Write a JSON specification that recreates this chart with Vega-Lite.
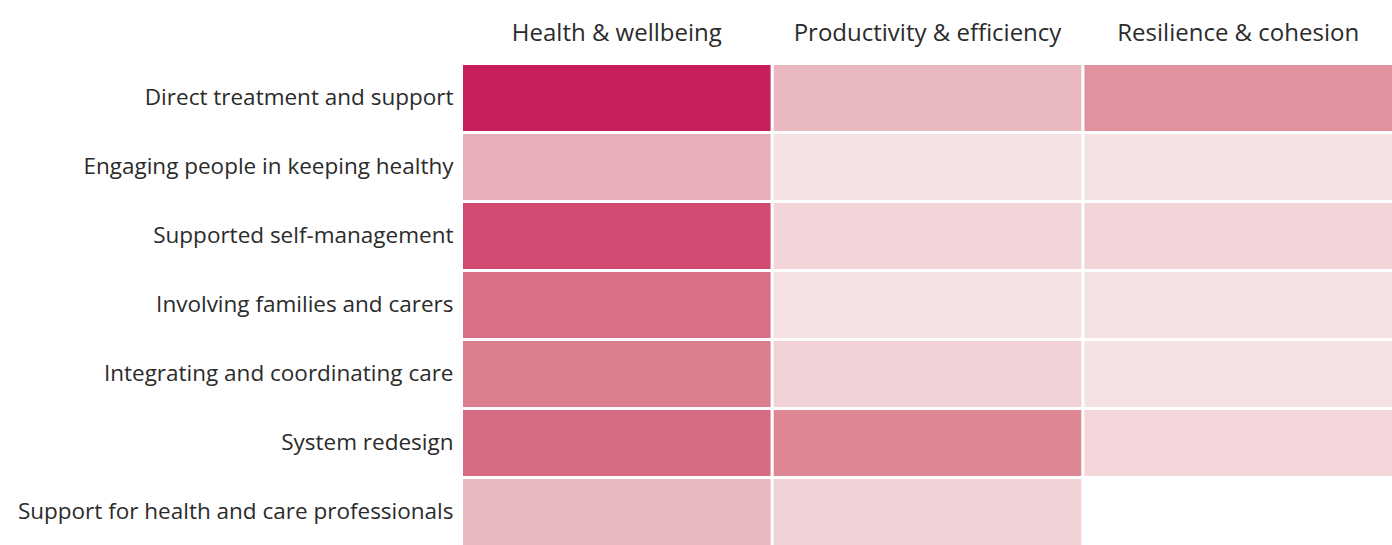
{
  "$schema": "https://vega.github.io/schema/vega-lite/v6.json",
  "width": 1392,
  "height": 545,
  "autosize": {"type": "fit", "contains": "padding"},
  "padding": {"top": 21, "left": 17, "right": 0, "bottom": 0},
  "background": "white",
  "config": {"view": {"stroke": null}, "font": "Open Sans"},
  "data": {
    "values": [
      {"activity": "Direct treatment and support", "outcome": "Health & wellbeing", "score": 10},
      {"activity": "Direct treatment and support", "outcome": "Productivity & efficiency", "score": 2.1},
      {"activity": "Direct treatment and support", "outcome": "Resilience & cohesion", "score": 4.1},
      {"activity": "Engaging people in keeping healthy", "outcome": "Health & wellbeing", "score": 2.6},
      {"activity": "Engaging people in keeping healthy", "outcome": "Productivity & efficiency", "score": 0},
      {"activity": "Engaging people in keeping healthy", "outcome": "Resilience & cohesion", "score": 0},
      {"activity": "Supported self-management", "outcome": "Health & wellbeing", "score": 7.7},
      {"activity": "Supported self-management", "outcome": "Productivity & efficiency", "score": 0.7},
      {"activity": "Supported self-management", "outcome": "Resilience & cohesion", "score": 0.7},
      {"activity": "Involving families and carers", "outcome": "Health & wellbeing", "score": 5.9},
      {"activity": "Involving families and carers", "outcome": "Productivity & efficiency", "score": 0},
      {"activity": "Involving families and carers", "outcome": "Resilience & cohesion", "score": 0.1},
      {"activity": "Integrating and coordinating care", "outcome": "Health & wellbeing", "score": 5.05},
      {"activity": "Integrating and coordinating care", "outcome": "Productivity & efficiency", "score": 0.9},
      {"activity": "Integrating and coordinating care", "outcome": "Resilience & cohesion", "score": 0},
      {"activity": "System redesign", "outcome": "Health & wellbeing", "score": 6.1},
      {"activity": "System redesign", "outcome": "Productivity & efficiency", "score": 4.7},
      {"activity": "System redesign", "outcome": "Resilience & cohesion", "score": 0.65},
      {"activity": "Support for health and care professionals", "outcome": "Health & wellbeing", "score": 2.1},
      {"activity": "Support for health and care professionals", "outcome": "Productivity & efficiency", "score": 0.9}
    ]
  },
  "mark": {"type": "rect"},
  "encoding": {
    "x": {
      "field": "outcome",
      "type": "nominal",
      "sort": ["Health & wellbeing", "Productivity & efficiency", "Resilience & cohesion"],
      "scale": {"paddingInner": 0.01, "paddingOuter": 0},
      "axis": {
        "orient": "top",
        "title": null,
        "labelAngle": 0,
        "ticks": false,
        "domain": false,
        "labelFontSize": 24,
        "labelColor": "#2b2b2b",
        "labelPadding": 20,
        "labelLimit": 600
      }
    },
    "y": {
      "field": "activity",
      "type": "nominal",
      "sort": [
        "Direct treatment and support",
        "Engaging people in keeping healthy",
        "Supported self-management",
        "Involving families and carers",
        "Integrating and coordinating care",
        "System redesign",
        "Support for health and care professionals"
      ],
      "scale": {"paddingInner": 0.045, "paddingOuter": 0},
      "axis": {
        "title": null,
        "ticks": false,
        "domain": false,
        "labelFontSize": 22.5,
        "labelColor": "#2b2b2b",
        "labelPadding": 10,
        "labelLimit": 600
      }
    },
    "color": {
      "field": "score",
      "type": "quantitative",
      "scale": {
        "domain": [0, 5, 10],
        "range": ["#f5e3e4", "#db808f", "#c71f5b"],
        "interpolate": "rgb"
      },
      "legend": null
    }
  }
}
